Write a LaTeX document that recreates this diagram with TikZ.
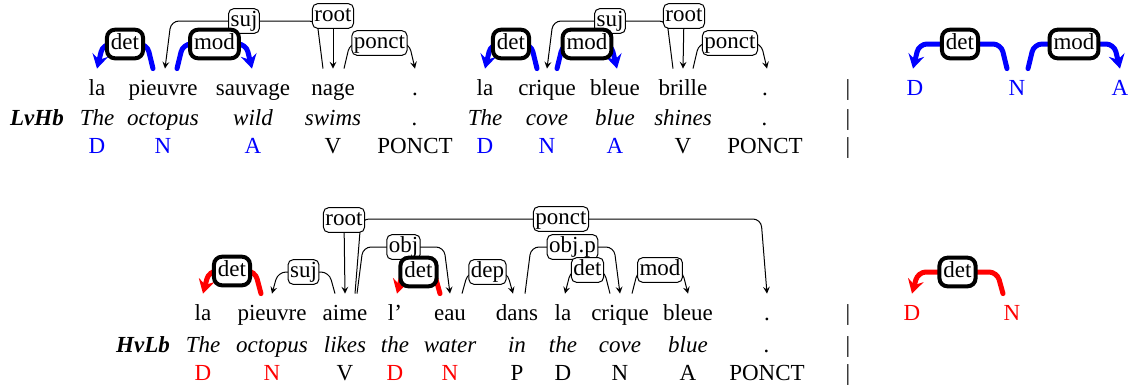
\documentclass[tikz,border=0pt]{standalone}
\usepackage{fontspec}
\setmainfont{Liberation Serif}
\usetikzlibrary{arrows, arrows.meta, calc}
\newcommand{\depfont}{\fontsize{11.5}{14}\selectfont}

\begin{document}
\begin{tikzpicture}[> = stealth, % arrow head style
    x = 0.5pt, y = -0.5pt, % one unit per pixel, y going down
    lev/.store in = \deplev, lev = 40, % height of the arc top
    dep/.style = {rounded corners = 4pt, to path = {let \p1 = (\tikztostart),
        \p2 = (\tikztotarget), \p3 = (0,\deplev), \n1 = {sign(\x2-\x1)} in
        -- (\x1+\n1*3pt,\y3) -- (\x2-\n1*3pt,\y3) \tikztonodes -- (\p2)}}
  ]

  \tikzstyle{word}=[anchor = base, inner sep = 0pt, text height = 13pt,
  font = \depfont]
  \tikzstyle{gloss}=[anchor = base, inner sep = 0pt, font = \depfont\itshape]
  \tikzstyle{postag}=[anchor = base, inner sep = 0pt, font = \depfont]
  \tikzstyle{corpus}=[anchor = base, inner sep = 0pt,
  font = \depfont\bfseries\itshape]
  \tikzstyle{lbl}=[draw = black, text = black, fill = white, line width = 0.5pt,
  rounded corners = 2.5pt, inner sep = 1pt, text height = 7.8pt,
  text depth = 2.5pt, font = \depfont]
  \tikzstyle{tlbl}=[lbl, line width = 2pt, rounded corners = 4pt,
  inner sep = 2pt]
  \tikzstyle{arcthin}=[dep, draw = black, line width = 0.5pt, ->]
  \tikzstyle{arcblue}=[dep, draw = blue, line width = 2.5pt, line cap = round,
  -{Stealth[length = 7pt, width = 8pt, inset = 2.5pt]}]
  \tikzstyle{arcred}=[arcblue, draw = red]

  \useasboundingbox (0,0) rectangle (1130,388);

  % first sentence
  \node[word] (a1) at (97,95) {la}; \node[word] (a2) at (163,95) {pieuvre};
  \node[word] (a3) at (253,95) {sauvage}; \node[word] (a4) at (333,95) {nage};
  \node[word] (a5) at (415,95) {.};
  \node[gloss] (ga1) at (97,125) {The}; \node[gloss] (ga2) at (163,125)
  {octopus}; \node[gloss] (ga3) at (253,125) {wild}; \node[gloss] (ga4) at
  (333,125) {swims}; \node[gloss] (ga5) at (415,125) {.};
  \node[postag, text = blue] (pa1) at (97,153) {D}; \node[postag, text = blue]
  (pa2) at (163,153) {N}; \node[postag, text = blue] (pa3) at (253,153) {A};
  \node[postag] (pa4) at (333,153) {V}; \node[postag] (pa5) at (415,153)
  {PONCT};
  \node[corpus] (lvhb) at (37,125) {LvHb};

  % second sentence
  \node[word] (b1) at (485,95) {la}; \node[word] (b2) at (547,95) {crique};
  \node[word] (b3) at (615,95) {bleue}; \node[word] (b4) at (683,95) {brille};
  \node[word] (b5) at (765,95) {.};
  \node[gloss] (gb1) at (485,125) {The}; \node[gloss] (gb2) at (547,125)
  {cove}; \node[gloss] (gb3) at (615,125) {blue}; \node[gloss] (gb4) at
  (683,125) {shines}; \node[gloss] (gb5) at (765,125) {.};
  \node[postag, text = blue] (pb1) at (485,153) {D}; \node[postag, text = blue]
  (pb2) at (547,153) {N}; \node[postag, text = blue] (pb3) at (615,153) {A};
  \node[postag] (pb4) at (683,153) {V}; \node[postag] (pb5) at (765,153)
  {PONCT};

  \node[postag] (bar1) at (848,95) {\textbar}; \node[postag] (bar2) at
  (848,125) {\textbar}; \node[postag] (bar3) at (848,153) {\textbar};

  % top pattern
  \node[word, text = blue] (t1) at (915,95) {D}; \node[word, text = blue] (t2)
  at (1017,95) {N}; \node[word, text = blue] (t3) at (1120,95) {A};

  % third sentence
  \node[word] (c1) at (203,320) {la}; \node[word] (c2) at (272,320) {pieuvre};
  \node[word] (c3) at (345,320) {aime}; \node[word] (c4) at (395,320) {l’};
  \node[word] (c5) at (450,320) {eau}; \node[word] (c6) at (517,320) {dans};
  \node[word] (c7) at (563,320) {la}; \node[word] (c8) at (620,320) {crique};
  \node[word] (c9) at (688,320) {bleue}; \node[word] (c10) at (767,320) {.};
  \node[gloss] (gc1) at (203,352) {The}; \node[gloss] (gc2) at (272,352)
  {octopus}; \node[gloss] (gc3) at (345,352) {likes}; \node[gloss] (gc4) at
  (395,352) {the}; \node[gloss] (gc5) at (450,352) {water}; \node[gloss] (gc6)
  at (517,352) {in}; \node[gloss] (gc7) at (563,352) {the}; \node[gloss] (gc8)
  at (620,352) {cove}; \node[gloss] (gc9) at (688,352) {blue}; \node[gloss]
  (gc10) at (767,352) {.};
  \node[postag, text = red] (pc1) at (203,380) {D}; \node[postag, text = red]
  (pc2) at (272,380) {N}; \node[postag] (pc3) at (345,380) {V};
  \node[postag, text = red] (pc4) at (395,380) {D}; \node[postag, text = red]
  (pc5) at (450,380) {N}; \node[postag] (pc6) at (517,380) {P}; \node[postag]
  (pc7) at (563,380) {D}; \node[postag] (pc8) at (620,380) {N}; \node[postag]
  (pc9) at (688,380) {A}; \node[postag] (pc10) at (767,380) {PONCT};
  \node[corpus] (hvlb) at (143,352) {HvLb};

  \node[postag] (bar4) at (848,320) {\textbar}; \node[postag] (bar5) at
  (848,352) {\textbar}; \node[postag] (bar6) at (848,380) {\textbar};

  % bottom pattern
  \node[word, text = red] (u1) at (912,320) {D}; \node[word, text = red] (u2)
  at (1012,320) {N};

  % arcs of the first sentence
  \path ([xshift=-5pt]a4.north) edge[arcthin, lev = 21] node[lbl, midway] {suj}
  ([xshift=1pt]a2.north);
  \path ([xshift=5.5pt]a4.north) edge[arcthin, lev = 43] node[lbl, midway]
  {ponct} (a5.north);
  \path ([xshift=-5pt]a2.north) edge[arcblue, lev = 44] node[tlbl, midway]
  {det} (a1.north);
  \path ([xshift=7pt]a2.north) edge[arcblue, lev = 44] node[tlbl, midway]
  {mod} ([xshift=-0.5pt]a3.north);
  \node[lbl] (ra) at (333,16) {root}; \draw[->, line width = 0.5pt] (ra) --
  (a4.north);

  % arcs of the second sentence
  \path ([xshift=-5pt]b4.north) edge[arcthin, lev = 21] node[lbl, midway] {suj}
  (b2.north);
  \path ([xshift=5pt]b4.north) edge[arcthin, lev = 43] node[lbl, midway]
  {ponct} ([xshift=1pt]b5.north);
  \path ([xshift=-5pt]b2.north) edge[arcblue, lev = 44] node[tlbl, midway]
  {det} (b1.north);
  \path ([xshift=5pt]b2.north) edge[arcblue, lev = 44] node[tlbl, midway]
  {mod} ([xshift=1pt]b3.north);
  \node[lbl] (rb) at (684,16) {root}; \draw[->, line width = 0.5pt] (rb) --
  (b4.north);

  % top pattern arcs
  \path ([xshift=-5pt]t2.north) edge[arcblue, lev = 44] node[tlbl, midway]
  {det} ([xshift=-1pt]t1.north);
  \path ([xshift=5.5pt]t2.north) edge[arcblue, lev = 44] node[tlbl, midway]
  {mod} (t3.north);

  % arcs of the third sentence
  \path ([xshift=5pt]c3.north) edge[arcthin, lev = 219] node[lbl, midway]
  {ponct} (c10.north);
  \path ([xshift=6pt]c3.north) edge[arcthin, lev = 247] node[lbl, midway]
  {obj} (c5.north);
  \path ([xshift=4pt]c6.north) edge[arcthin, lev = 247] node[lbl, midway]
  {obj.p} (c8.north);
  \path ([xshift=-5pt]c3.north) edge[arcthin, lev = 272] node[lbl, midway]
  {suj} (c2.north);
  \path ([xshift=6pt]c5.north) edge[arcthin, lev = 272] node[lbl, midway]
  {dep} ([xshift=-2pt]c6.north);
  \path ([xshift=-5pt]c8.north) edge[arcthin, lev = 270] node[lbl, midway]
  {det} ([xshift=1pt]c7.north);
  \path ([xshift=6pt]c8.north) edge[arcthin, lev = 270] node[lbl, midway]
  {mod} (c9.north);
  \path ([xshift=-5.5pt]c2.north) edge[arcred, lev = 271] node[tlbl, midway]
  {det} (c1.north);
  \path ([xshift=-5pt]c5.north) edge[arcred, lev = 272] node[tlbl, midway]
  {det} ([xshift=1pt]c4.north);
  \node[lbl] (rc) at (344,220) {root}; \draw[->, line width = 0.5pt] (rc) --
  (c3.north);

  % bottom pattern arc
  \path ([xshift=-4.5pt]u2.north) edge[arcred, lev = 272] node[tlbl, midway]
  {det} (u1.north);
\end{tikzpicture}
\end{document}
